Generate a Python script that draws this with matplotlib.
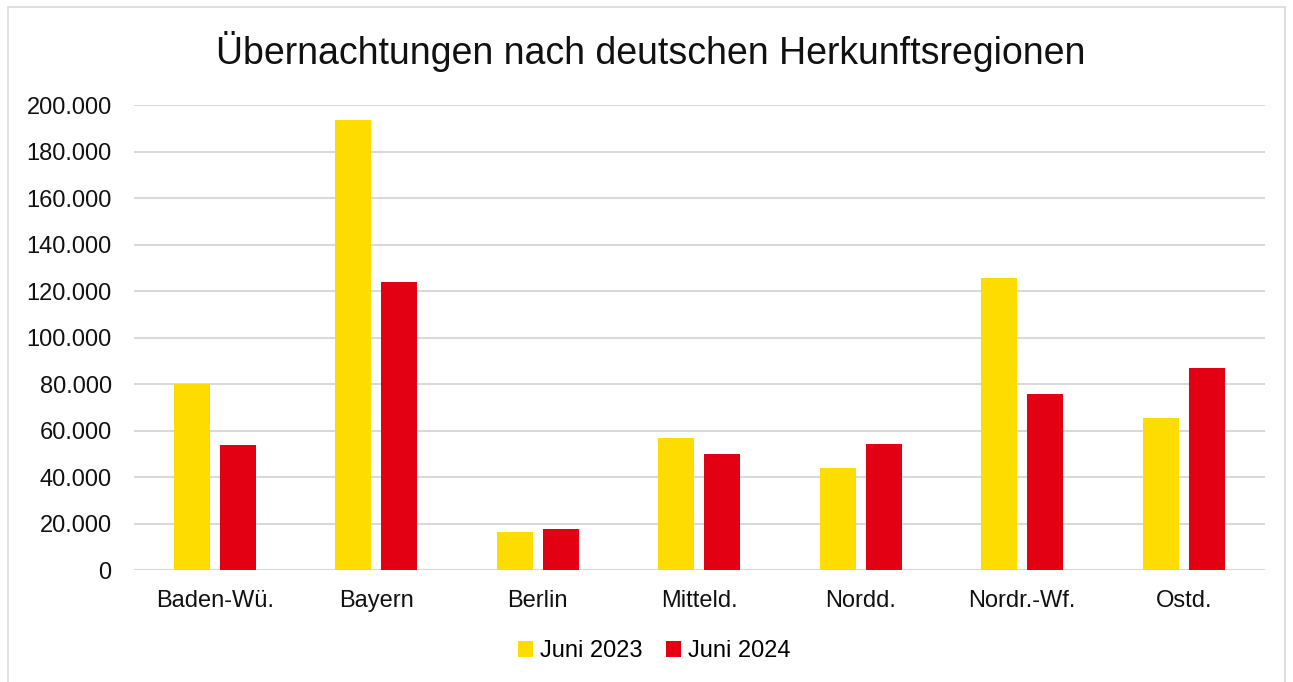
"""
Übernachtungen nach deutschen Herkunftsregionen - grouped bar chart.
"""

import numpy as np
import matplotlib.pyplot as plt
from matplotlib.patches import Rectangle
from matplotlib.ticker import FuncFormatter

plt.rcParams["font.family"] = ["Liberation Sans", "DejaVu Sans"]

regions = ["Baden-Wü.", "Bayern", "Berlin", "Mitteld.", "Nordd.", "Nordr.-Wf.", "Ostd."]
juni_2023 = [80100, 193500, 16600, 57000, 44100, 125600, 65500]
juni_2024 = [53600, 123800, 17600, 50100, 54400, 75900, 86900]
series_labels = ["Juni 2023", "Juni 2024"]

YELLOW = "#FFDC00"
RED = "#E30013"
GRID = "#D9D9D9"


def thousands(v, pos):
    return f"{int(v):,}".replace(",", ".")


def main():
    fig = plt.figure(figsize=(12.93, 6.82), dpi=100)
    fig.patches.append(Rectangle((0.006, -0.01), 0.988, 1.0, transform=fig.transFigure,
                                 fill=False, edgecolor="#D9D9D9", linewidth=1.2))
    ax = fig.add_axes([0.1036, 0.164, 0.8744, 0.682])

    x = np.arange(len(regions))
    width = 0.223
    offset = (width + 0.062) / 2
    ax.bar(x - offset, juni_2023, width, color=YELLOW, label=series_labels[0], zorder=3)
    ax.bar(x + offset, juni_2024, width, color=RED, label=series_labels[1], zorder=3)

    ax.set_xlim(-0.5, len(regions) - 0.5)
    ax.set_ylim(0, 200000)
    ax.set_yticks(np.arange(0, 200001, 20000))
    ax.yaxis.set_major_formatter(FuncFormatter(thousands))
    ax.set_xticks(x)
    ax.set_xticklabels(regions)
    ax.tick_params(axis="both", length=0, labelsize=17, colors="#111111")
    ax.tick_params(axis="x", pad=14)
    ax.tick_params(axis="y", pad=16)
    ax.grid(axis="y", color=GRID, linewidth=1.5, zorder=0)
    ax.set_axisbelow(True)
    for s in ax.spines.values():
        s.set_visible(False)

    fig.text(0.5035, 0.925, "Übernachtungen nach deutschen Herkunftsregionen",
             ha="center", va="center", fontsize=27, color="#111111")

    fig.legend(loc="center", bbox_to_anchor=(0.506, 0.045), ncol=2, frameon=False,
               fontsize=17, handlelength=0.65, handleheight=0.65, handletextpad=0.3,
               columnspacing=1.0)

    fig.savefig("out.png", dpi=100)


if __name__ == "__main__":
    main()
